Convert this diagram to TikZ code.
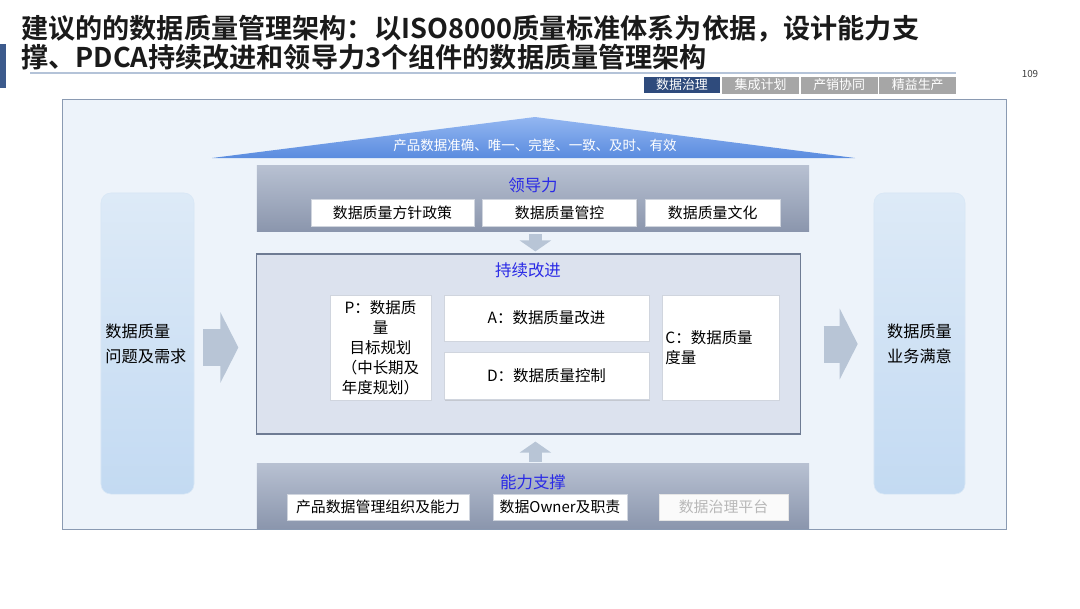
\documentclass[tikz,border=0pt]{standalone}
\usepackage{fontspec}
\setmainfont{Noto Sans CJK SC}[BoldFont={Noto Sans CJK SC Bold}]
\usepackage{tikz}
\usetikzlibrary{arrows.meta, positioning, shadows, calc}
\definecolor{titleink}{HTML}{1A1A1A}
\definecolor{barblue}{HTML}{3C5A8C}
\definecolor{rulegray}{HTML}{B4C3D8}
\definecolor{tabblue}{HTML}{2F4B7C}
\definecolor{tabgray}{HTML}{A6A6A6}
\definecolor{framefill}{HTML}{EDF3FA}
\definecolor{frameline}{HTML}{8A9AB2}
\definecolor{roofhi}{HTML}{93B6F1}
\definecolor{roofdark}{HTML}{5A8CDF}
\definecolor{bandtop}{HTML}{B8C1D2}
\definecolor{bandbot}{HTML}{8B96AD}
\definecolor{headblue}{HTML}{2A2AE6}
\definecolor{pdcafill}{HTML}{DCE2EE}
\definecolor{pdcaline}{HTML}{6E7B93}
\definecolor{leafline}{HTML}{D0D5DE}
\definecolor{sidetop}{HTML}{DDEAF7}
\definecolor{sidebot}{HTML}{C3DAF2}
\definecolor{arrowgray}{HTML}{B8C5D6}
\tikzset{
  tab/.style={minimum width=1.9cm, minimum height=0.4cm, inner sep=0pt, text=white,
    font=\fontsize{9.2pt}{10pt}\selectfont},
  band/.style={top color=bandtop, bottom color=bandbot, minimum width=13.8cm, inner sep=0pt},
  bandhead/.style={text=headblue, inner sep=0pt, font=\fontsize{11.7pt}{13pt}\selectfont},
  leafbox/.style={draw=leafline, fill=white, inner sep=0pt, minimum height=0.67cm,
    font=\fontsize{10.6pt}{12pt}\selectfont,
    drop shadow={shadow xshift=0.7pt, shadow yshift=-0.7pt, opacity=0.35, fill=black!40}},
  pdcabox/.style={leafbox, font=\fontsize{11pt}{14.2pt}\selectfont},
  sidebox/.style={draw=sidetop!80!sidebot, top color=sidetop, bottom color=sidebot,
    rounded corners=0.25cm, minimum height=7.525cm, inner sep=0pt,
    font=\fontsize{11.5pt}{17.8pt}\selectfont},
  fatarrow/.style={draw=arrowgray, line width=26.3pt, -{Triangle[length=12.8pt, width=49.8pt]}},
  slimarrow/.style={draw=arrowgray, line width=9.2pt, -{Triangle[length=7.8pt, width=22pt]}}
}
\begin{document}
\begin{tikzpicture}[x=0.025cm, y=-0.025cm]
    \fill[white] (0,0) rectangle (1080,608);
    \useasboundingbox (0,0) rectangle (1080,608);

    % Heading
    \node (title) at (21,42.5) [anchor=west, align=left, inner sep=0pt, text=titleink,
      font=\fontsize{19.3pt}{20.6pt}\selectfont\bfseries]
      {建议的的数据质量管理架构：以ISO8000质量标准体系为依据，设计能力支\\撑、PDCA持续改进和领导力3个组件的数据质量管理架构};
    \node (bar) at (3,66) [fill=barblue, minimum width=0.15cm, minimum height=1.1cm, inner sep=0pt] {};
    \coordinate (ruleL) at (30,73);
    \coordinate (ruleR) at (956,73);
    \node (page) at (1030,74) [inner sep=0pt, text=black!75, font=\fontsize{7pt}{8pt}\selectfont] {109};

    \node (tab1) at (682,85) [tab, fill=tabblue] {数据治理};
    \node (tab2) [tab, fill=tabgray, draw=black!35, right=0.05cm of tab1] {集成计划};
    \node (tab3) [tab, fill=tabgray, draw=black!35, right=0.05cm of tab2] {产销协同};
    \node (tab4) [tab, fill=tabgray, draw=black!35, right=0.05cm of tab3] {精益生产};

    % Frame
    \node (frame) at (534,314) [draw=frameline, fill=framefill, minimum width=23.6cm, minimum height=10.75cm] {};

    % Roof
    \coordinate (roofL) at (212,158);
    \coordinate (roofT) at (535,117);
    \coordinate (roofR) at (855,158);
    \shade[top color=roofhi, bottom color=roofdark] (roofL) -- (roofT) -- (roofR) -- cycle;
    \node (roof) at (535,145) [text=white, inner sep=0pt, font=\fontsize{9.6pt}{11pt}\selectfont]
      {产品数据准确、唯一、完整、一致、及时、有效};

    % Leadership
    \node (lead) at (533,198) [band, minimum height=1.65cm] {};
    \node (leadhead) at (533,185) [bandhead] {领导力};
    \node (lead1) at (392.5,212.5) [leafbox, minimum width=4.075cm] {数据质量方针政策};
    \node (lead2) [leafbox, minimum width=3.85cm, right=0.2cm of lead1] {数据质量管控};
    \node (lead3) [leafbox, minimum width=3.375cm, right=0.2cm of lead2] {数据质量文化};

    % Continuous improvement
    \node (pdca) at (528.5,344) [draw=pdcaline, line width=0.8pt, fill=pdcafill,
      minimum width=13.575cm, minimum height=4.5cm] {};
    \node (pdcahead) at (528,270) [bandhead] {持续改进};
    \node (plan) at (380.5,347.5) [pdcabox, minimum width=2.525cm, minimum height=2.625cm,
      align=center] {P：数据质\\量\\目标规划\\（中长期及\\年度规划）};
    \node (act) at (546.5,318) [pdcabox, minimum width=5.125cm, minimum height=1.15cm] {A：数据质量改进};
    \node (do) [pdcabox, minimum width=5.125cm, minimum height=1.175cm, below=0.275cm of act] {D：数据质量控制};
    \node (check) at (720.5,347.5) [pdcabox, minimum width=2.925cm, minimum height=2.625cm,
      text width=2.75cm, align=left] {C：数据质量\\度量};

    % Capability
    \node (cap) at (533,495.5) [band, minimum height=1.625cm] {};
    \node (caphead) at (533,482) [bandhead] {能力支撑};
    \node (cap1) at (378,507) [leafbox, minimum width=4.55cm, minimum height=0.65cm] {产品数据管理组织及能力};
    \node (cap2) at (560,507) [leafbox, minimum width=3.35cm, minimum height=0.65cm] {数据Owner及职责};
    \node (cap3) at (723.5,507) [leafbox, draw=black!10, fill=black!2, text=black!28,
      minimum width=3.225cm, minimum height=0.65cm] {数据治理平台};

    % Sides
    \node (need) at (147.5,343.5) [sidebox, minimum width=2.325cm, text width=2.1cm, align=left]
      {数据质量\\问题及需求};
    \node (result) at (919.5,343.5) [sidebox, minimum width=2.275cm, align=center]
      {数据质量\\业务满意};

    % Edges
    \draw[rulegray, line width=1.2pt] (ruleL) -- (ruleR);
    \draw[fatarrow, shorten <=0.225cm, shorten >=0.45cm] ([yshift=-0.1cm]need.east) -- ([yshift=-0.1cm]need.east -| pdca.west);
    \draw[fatarrow, shorten <=0.575cm, shorten >=0.4cm] (pdca.east) -- (pdca.east -| result.west);
    \draw[slimarrow, shorten <=0.075cm, shorten >=0.05cm] ([xshift=0.06cm]lead.south) -- ([xshift=0.06cm]lead.south |- pdca.north);
    \draw[slimarrow, shorten <=0.025cm, shorten >=0.175cm] ([xshift=0.06cm]cap.north) -- ([xshift=0.06cm]cap.north |- pdca.south);

\end{tikzpicture}
\end{document}
